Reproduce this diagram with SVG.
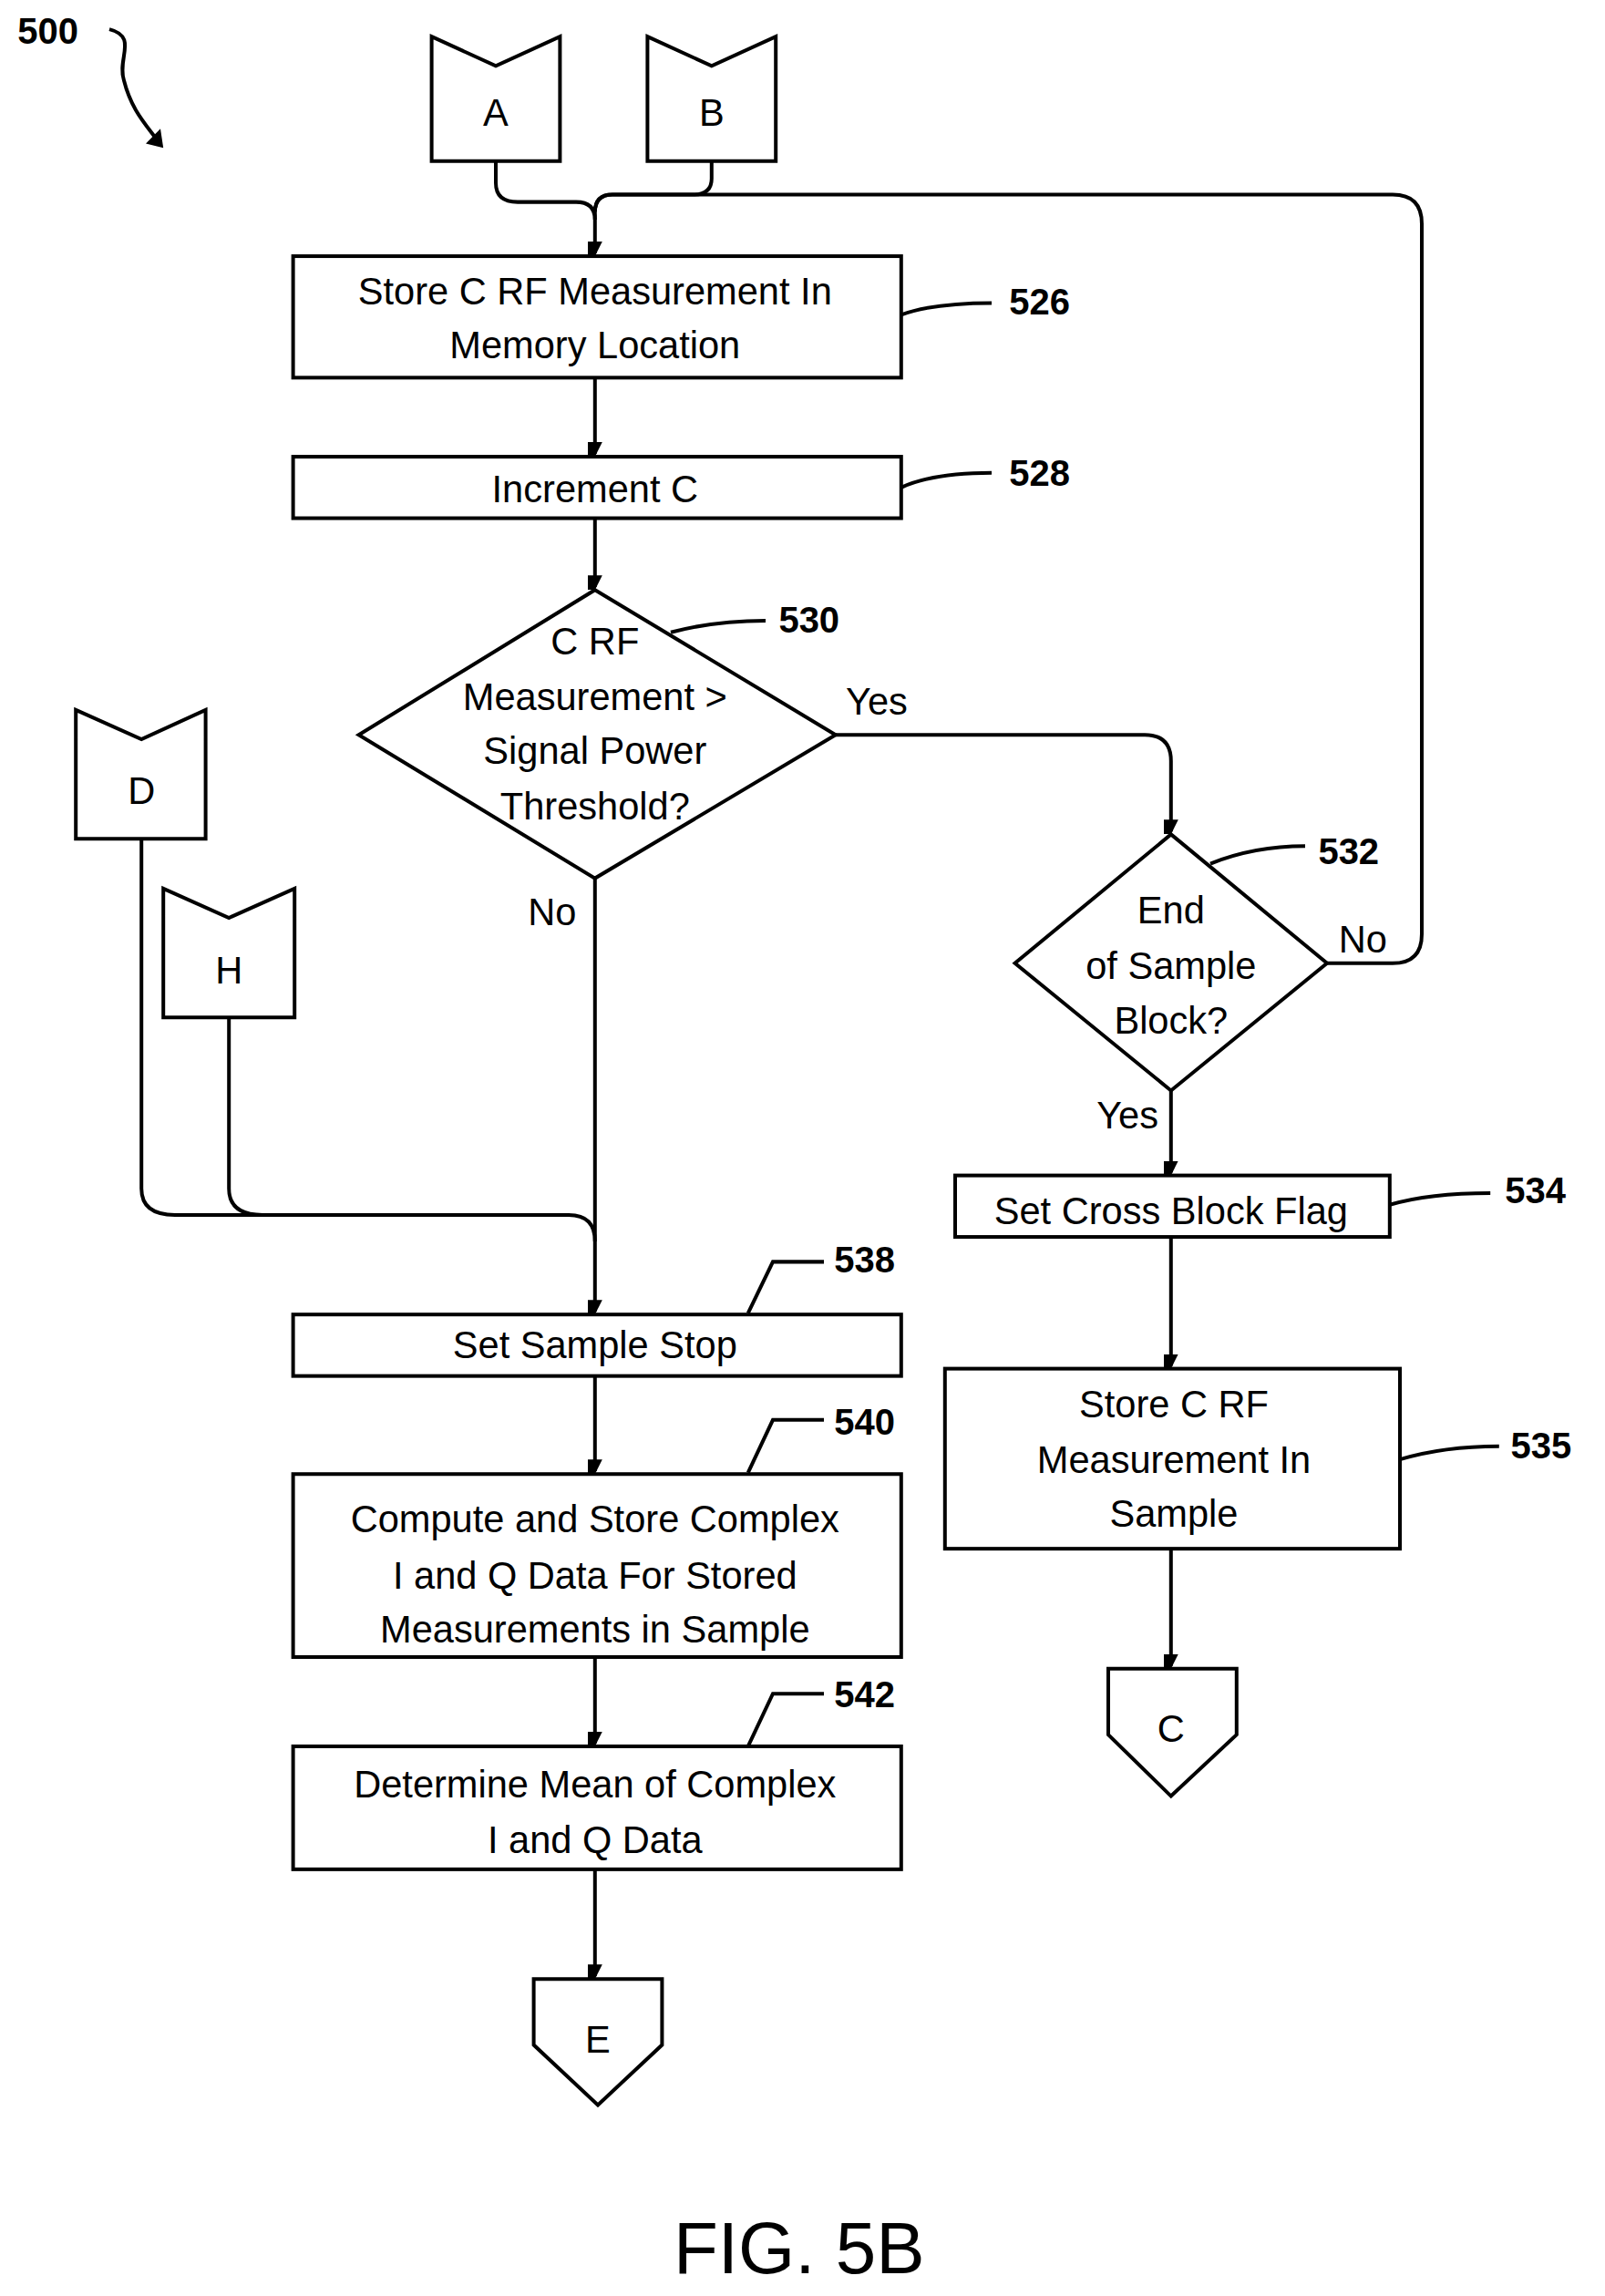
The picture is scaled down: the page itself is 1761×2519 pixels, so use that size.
<svg xmlns="http://www.w3.org/2000/svg" width="1761" height="2519" viewBox="0 0 1761 2519">
<style>
.s{fill:#fff;stroke:#000;stroke-width:2.5}
.l{fill:none;stroke:#000;stroke-width:2.5}
.a{fill:none;stroke:#000;stroke-width:2.5;marker-end:url(#ah)}
text{font-family:"Liberation Sans",Arial,sans-serif;font-size:26px;text-anchor:middle;fill:#000}
.n{font-weight:bold;font-size:25px;text-anchor:start}
.lb{text-anchor:start}
</style>
<defs><marker id="ah" markerWidth="10" markerHeight="10" refX="8" refY="5" orient="auto" markerUnits="userSpaceOnUse"><path d="M0,0 L10,5 L0,10 Z" transform="scale(1.6)" fill="#000"/></marker></defs>
<rect width="1761" height="2519" fill="#fff"/>
<g transform="scale(1.6,1.606)">
<g id="connectors">
<path class="l" d="M75,20 C95,25 80,40 85,55 C90,75 100,85 108,96"/>
<path d="M100,98 L112,101 L110,88 Z" fill="#000"/>
<path class="l" d="M340,110 V125 Q340,138 355,138 H395 Q408,138 408,150"/>
<path class="l" d="M488,110 V122 Q488,133 475,133 H420 Q408,133 408,145"/>
<path class="l" d="M910,658 H955 Q975,658 975,638 V153 Q975,133 955,133 H420 Q408,133 408,145"/>
<path class="a" d="M408,145 V173"/>
<path class="a" d="M408,258 V310"/>
<path class="a" d="M408,354 V401"/>
<path class="a" d="M573,502 H785 Q803,502 803,520 V568"/>
<path class="a" d="M803,745 V801"/>
<path class="a" d="M803,845 V933"/>
<path class="a" d="M803,1058 V1138"/>
<path class="a" d="M408,600 V896"/>
<path class="l" d="M97,573 V812 Q97,830 120,830 H390 Q408,830 408,848"/>
<path class="l" d="M157,695 V812 Q157,830 180,830"/>
<path class="a" d="M408,940 V1005"/>
<path class="a" d="M408,1132 V1191"/>
<path class="a" d="M408,1277 V1350"/>
<path class="l" d="M618,215 Q640,207 680,207"/>
<path class="l" d="M618,333 Q640,323 680,323"/>
<path class="l" d="M460,432 Q490,424 525,424"/>
<path class="l" d="M830,590 Q860,578 895,578"/>
<path class="l" d="M953,823 Q980,815 1022,815"/>
<path class="l" d="M960,997 Q990,988 1028,988"/>
<path class="l" d="M513,897 L530,862 H565"/>
<path class="l" d="M513,1006 L530,970 H565"/>
<path class="l" d="M513,1193 L530,1157 H565"/>
</g>
<text class="n" x="12" y="30">500</text>
<g id="A"><path class="s" d="M296,25 L340,45 L384,25 V110 H296 Z"/><text x="340" y="86">A</text></g>
<g id="B"><path class="s" d="M444,25 L488,45 L532,25 V110 H444 Z"/><text x="488" y="86">B</text></g>
<g id="n526"><rect class="s" x="201" y="175" width="417" height="83"/><text x="408" y="208">Store C RF Measurement In</text><text x="408" y="245">Memory Location</text><text class="n" x="692" y="215">526</text></g>
<g id="n528"><rect class="s" x="201" y="312" width="417" height="42"/><text x="408" y="343">Increment C</text><text class="n" x="692" y="332">528</text></g>
<g id="n530"><path class="s" d="M408,403 L573,502 L408,600 L246,502 Z"/><text x="408" y="447">C RF</text><text x="408" y="485">Measurement &gt;</text><text x="408" y="522">Signal Power</text><text x="408" y="560">Threshold?</text><text class="n" x="534" y="432">530</text></g>
<text class="lb" x="580" y="488">Yes</text>
<text class="lb" x="362" y="632">No</text>
<g id="n532"><path class="s" d="M803,570 L910,658 L803,745 L696,658 Z"/><text x="803" y="631">End</text><text x="803" y="669">of Sample</text><text x="803" y="706">Block?</text><text class="n" x="904" y="590">532</text></g>
<text class="lb" x="918" y="651">No</text>
<text class="lb" x="752" y="771">Yes</text>
<g id="n534"><rect class="s" x="655" y="803" width="298" height="42"/><text x="803" y="836">Set Cross Block Flag</text><text class="n" x="1032" y="822">534</text></g>
<g id="n535"><rect class="s" x="648" y="935" width="312" height="123"/><text x="805" y="968">Store C RF</text><text x="805" y="1006">Measurement In</text><text x="805" y="1043">Sample</text><text class="n" x="1036" y="996">535</text></g>
<g id="C"><path class="s" d="M760,1140 H848 V1185 L803,1227 L760,1185 Z"/><text x="803" y="1190">C</text></g>
<g id="D"><path class="s" d="M52,485 L97,505 L141,485 V573 H52 Z"/><text x="97" y="549">D</text></g>
<g id="H"><path class="s" d="M112,607 L157,627 L202,607 V695 H112 Z"/><text x="157" y="672">H</text></g>
<g id="n538"><rect class="s" x="201" y="898" width="417" height="42"/><text x="408" y="928">Set Sample Stop</text><text class="n" x="572" y="869">538</text></g>
<g id="n540"><rect class="s" x="201" y="1007" width="417" height="125"/><text x="408" y="1047">Compute and Store Complex</text><text x="408" y="1085">I and Q Data For Stored</text><text x="408" y="1122">Measurements in Sample</text><text class="n" x="572" y="980">540</text></g>
<g id="n542"><rect class="s" x="201" y="1193" width="417" height="84"/><text x="408" y="1228">Determine Mean of Complex</text><text x="408" y="1266">I and Q Data</text><text class="n" x="572" y="1166">542</text></g>
<g id="E"><path class="s" d="M366,1352 H454 V1397 L410,1438 L366,1397 Z"/><text x="410" y="1402">E</text></g>
<text x="548" y="1553" style="font-size:50px">FIG. 5B</text>
</g>
</svg>
